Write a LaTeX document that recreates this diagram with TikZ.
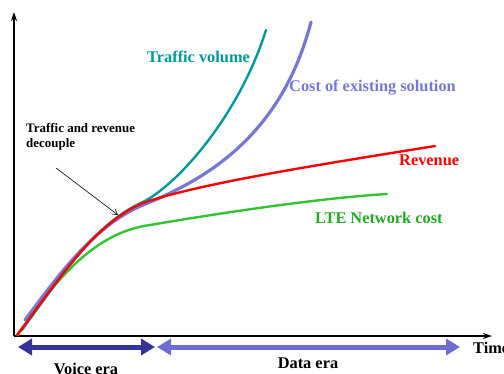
\documentclass[tikz,border=0pt]{standalone}
\usepackage{fontspec}
\setmainfont{Liberation Serif}
\usetikzlibrary{arrows.meta}
\definecolor{trafficcol}{HTML}{009999}
\definecolor{costcol}{HTML}{7777D6}
\definecolor{ltecol}{HTML}{33C433}
\definecolor{ltetext}{HTML}{22AA22}
\definecolor{voicecol}{HTML}{333399}
\definecolor{datacol}{HTML}{6D6DD2}

\begin{document}
\begin{tikzpicture}[x=1bp, y=1bp,
    every node/.style={font=\bfseries\fontsize{16.4}{19}\selectfont, inner sep=0pt},
    curve/.style={line width=2.4bp, line cap=round},
    era/.style={line width=5bp, {Triangle[length=14bp,width=16bp]}-{Triangle[length=14bp,width=16bp]}}]
    \useasboundingbox (0,0) rectangle (504,373);

    \coordinate (O) at (14,37);
    \coordinate (Ytop) at (14,361);
    \coordinate (Xend) at (492,37);
    \draw[line width=1.6bp, -{Stealth[length=9bp,width=6bp]}] (O) -- (Ytop);
    \draw[line width=1.6bp, -{Stealth[length=9bp,width=6bp]}] (O) -- (Xend);

    \draw[curve, costcol, line width=3.2bp] (25,53) .. controls (60,100) and (95,148) .. (143,168)
        .. controls (210,195) and (282,240) .. (311,351);
    \draw[curve, ltecol] (18,38) .. controls (50,85) and (90,140) .. (150,148)
        .. controls (220,160) and (320,175) .. (387,179);
    \draw[curve, trafficcol] (22,43) .. controls (60,95) and (95,150) .. (143,171)
        .. controls (180,190) and (240,260) .. (266,343);
    \draw[curve, red] (17,38) .. controls (60,95) and (95,150) .. (143,170)
        .. controls (200,190) and (330,210) .. (435,227);

    \node[trafficcol, anchor=base west] (traffic) at (147,311) {Traffic volume};
    \node[costcol, anchor=base west] (cost) at (289,282) {Cost of existing solution};
    \node[red, anchor=base west] (revenue) at (399,208) {Revenue};
    \node[ltetext, anchor=base west] (lte) at (315,150) {LTE Network cost};

    \node[anchor=north west, align=left, font=\bfseries\fontsize{13}{15.5}\selectfont] (note)
        at (26,250) {Traffic and revenue\\decouple};
    \coordinate (dcA) at (56,205);
    \coordinate (dcB) at (118,158);
    \draw[line width=0.6bp, -{Straight Barb[length=5bp,width=6bp]}] (dcA) -- (dcB);

    \coordinate (V1) at (18,26);
    \coordinate (V2) at (155,26);
    \coordinate (D1) at (157,26);
    \coordinate (D2) at (460,26);
    \draw[era, voicecol] (V1) -- (V2);
    \draw[era, datacol] (D1) -- (D2);

    \node[anchor=base] (voice) at (86,-1) {Voice era};
    \node[anchor=base] (data) at (308,5) {Data era};
    \node[anchor=base west] (time) at (473,20) {Time};
\end{tikzpicture}
\end{document}
